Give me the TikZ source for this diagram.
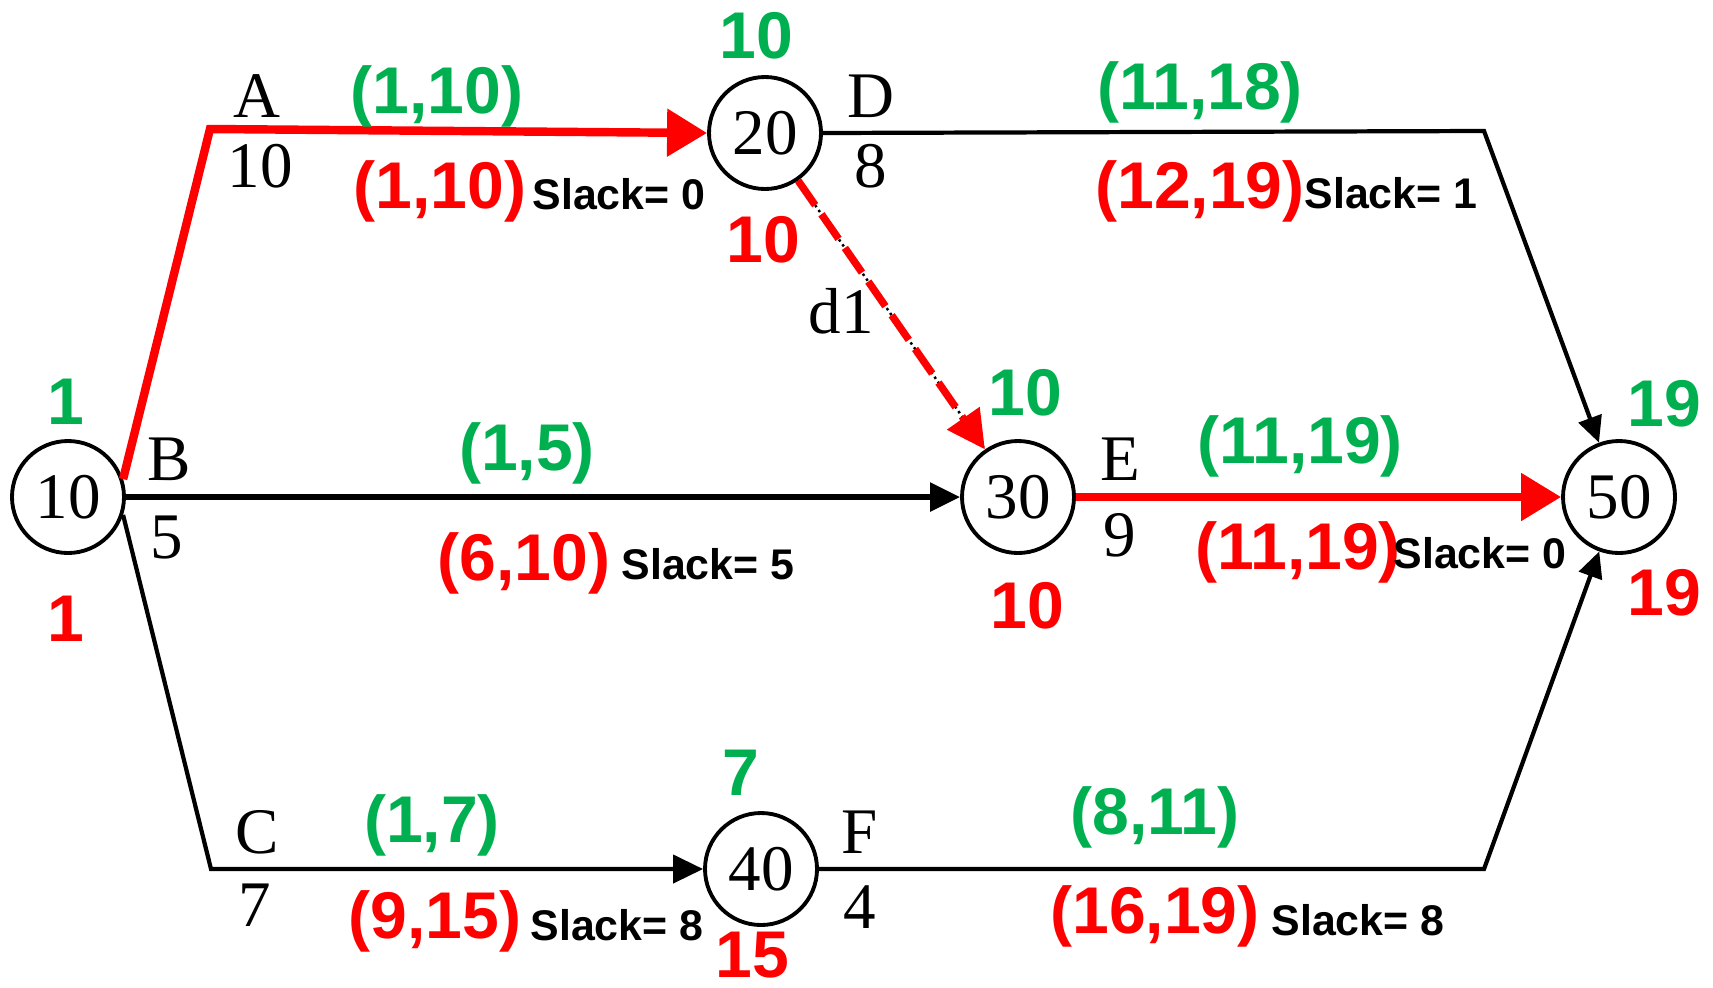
\documentclass[tikz,border=0pt]{standalone}
\usepackage{fontspec}
\setmainfont{Liberation Serif}
\newfontfamily\labfont{Liberation Sans}
\usetikzlibrary{arrows.meta,positioning}
\definecolor{esgreen}{RGB}{0,176,80}
\definecolor{lfred}{RGB}{255,0,0}

\begin{document}
\begin{tikzpicture}[
    event/.style={circle,draw,line width=1.1pt,minimum size=1.12cm,inner sep=0pt,
      font=\fontsize{18.5}{19}\selectfont},
    actname/.style={font=\fontsize{18.5}{19}\selectfont},
    early/.style={text=esgreen,font=\labfont\bfseries\fontsize{18.8}{21}\selectfont},
    late/.style={text=lfred,font=\labfont\bfseries\fontsize{18.8}{21}\selectfont},
    slackl/.style={font=\labfont\bfseries\fontsize{12.2}{14}\selectfont},
    act/.style={line width=1.2pt,-{Triangle[length=0.3cm,width=0.28cm]}},
    crit/.style={line width=2.4pt,draw=lfred,-{Triangle[length=0.4cm,width=0.46cm]}}
  ]
  \useasboundingbox (0,0) rectangle (17.13,-9.87);

  % events
  \node[event] (n10) at (0.68,-4.97) {10};
  \node[event] (n20) at (7.65,-1.33) {20};
  \node[event] (n30) at (10.18,-4.97) {30};
  \node[event] (n40) at (7.61,-8.69) {40};
  \node[event] (n50) at (16.19,-4.97) {50};

  % bends
  \coordinate (abend) at (2.10,-1.29);
  \coordinate (cbend) at (2.11,-8.69);
  \coordinate (dbend) at (14.84,-1.31);
  \coordinate (fbend) at (14.84,-8.69);

  % activities
  \draw[crit,line join=miter] (n10.18) -- (abend) -- (n20.west);
  \draw[act,line width=1.6pt] (n10.east) -- (n30.west);
  \draw[act] (n10.-18) -- (cbend) -- (n40.west);
  \draw[act,-{Triangle[length=0.26cm,width=0.24cm]}] (n20.east) -- (dbend) -- (n50);
  \draw[crit] (n30.east) -- (n50.west);
  \draw[act,-{Triangle[length=0.26cm,width=0.24cm]}] (n40.east) -- (fbend) -- (n50);
  % dummy d1
  \draw[line width=0.7pt,densely dotted] (n20) -- (n30);
  \draw[line width=2.1pt,draw=lfred,dash pattern=on 0.3cm off 0.11cm,
    -{Triangle[length=0.38cm,width=0.38cm]}] (n20) -- (n30);

  % activity names and durations
  \node[actname] (la) at (2.57,-0.96) {A};
  \node[actname] (da) at (2.60,-1.66) {10};
  \node[actname] (lb) at (1.69,-4.59) {B};
  \node[actname] (db) at (1.67,-5.38) {5};
  \node[actname] (lc) at (2.57,-8.32) {C};
  \node[actname] (dc) at (2.55,-9.05) {7};
  \node[actname] (ld) at (8.71,-0.96) {D};
  \node[actname] (dd) at (8.71,-1.66) {8};
  \node[actname] (le) at (11.20,-4.59) {E};
  \node[actname] (de) at (11.20,-5.35) {9};
  \node[actname] (lf) at (8.60,-8.32) {F};
  \node[actname] (df) at (8.60,-9.07) {4};
  \node[actname] (ld1) at (8.41,-3.11) {d1};

  % event times
  \node[early] (e10) at (0.66,-4.02) {1};
  \node[late]  (l10) at (0.66,-6.19) {1};
  \node[early] (e20) at (7.56,-0.36) {10};
  \node[late]  (l20) at (7.63,-2.40) {10};
  \node[early] (e30) at (10.25,-3.93) {10};
  \node[late]  (l30) at (10.27,-6.06) {10};
  \node[early] (e40) at (7.41,-7.73) {7};
  \node[late]  (l40) at (7.52,-9.55) {15};
  \node[early] (e50) at (16.64,-4.04) {19};
  \node[late]  (l50) at (16.64,-5.93) {19};

  % activity start/finish times
  \node[early] (ea) at (4.37,-0.96) {(1,10)};
  \node[late]  (fa) at (4.40,-1.91) {(1,10)};
  \node[slackl] (sa) at (6.19,-1.94) {Slack= 0};
  \node[early] (eb) at (5.27,-4.53) {(1,5)};
  \node[late]  (fb) at (5.24,-5.63) {(6,10)};
  \node[slackl] (sb) at (7.08,-5.64) {Slack= 5};
  \node[early] (ec) at (4.32,-8.25) {(1,7)};
  \node[late]  (fc) at (4.35,-9.21) {(9,15)};
  \node[slackl] (sc) at (6.17,-9.25) {Slack= 8};
  \node[early] (ed) at (12.00,-0.92) {(11,18)};
  \node[late]  (fd) at (12.00,-1.91) {(12,19)};
  \node[slackl] (sd) at (13.91,-1.93) {Slack= 1};
  \node[early] (ee) at (13.00,-4.46) {(11,19)};
  \node[late]  (fe) at (12.98,-5.52) {(11,19)};
  \node[slackl] (se) at (14.80,-5.53) {Slack= 0};
  \node[early] (ef) at (11.55,-8.17) {(8,11)};
  \node[late]  (ff) at (11.55,-9.16) {(16,19)};
  \node[slackl] (sf) at (13.58,-9.20) {Slack= 8};
\end{tikzpicture}
\end{document}
